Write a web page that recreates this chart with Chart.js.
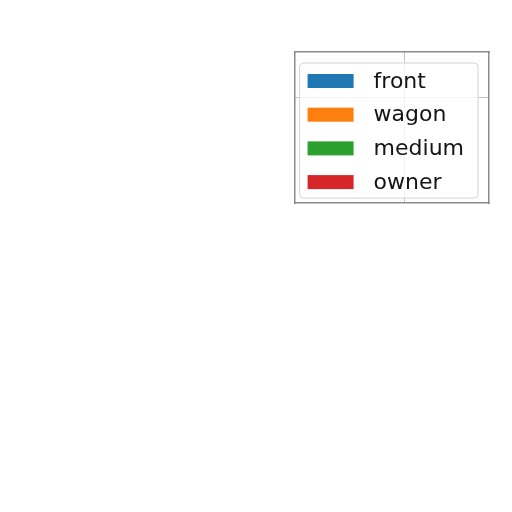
<!DOCTYPE html>
<html>
<head>
<meta charset="utf-8">
<script src="https://cdn.jsdelivr.net/npm/chart.js@4/dist/chart.umd.min.js"></script>
<style>
  html, body { margin: 0; padding: 0; background: #fff; }
  #wrap { width: 512px; height: 512px; }
</style>
</head>
<body>
<div id="wrap"><canvas id="grafico"></canvas></div>
<script>
// nothing of the series is visible in the picture, only the legend
let categorias = [];
let series = ["front", "wagon", "medium", "owner"];
let valoresFront = [];
let valoresWagon = [];
let valoresMedium = [];
let valoresOwner = [];
let cores = ["#1f77b4", "#ff7f0e", "#2ca02c", "#d62728"];
let ticksX = [1];
let ticksY = [1];

let valores = [valoresFront, valoresWagon, valoresMedium, valoresOwner];

// legend drawn inside the plot, upper right, like matplotlib
const legendaDentro = {
  id: "legendaDentro",
  afterDraw(chart) {
    let ctx = chart.ctx;
    let area = chart.chartArea;
    ctx.save();
    ctx.font = "22px 'DejaVu Sans'";
    let larguraTexto = Math.max(
      ...chart.data.datasets.map((d) => ctx.measureText(d.label).width)
    );
    let passo = 33.7;
    let largura = 8 + 46 + 20 + larguraTexto + 14;
    let altura = 18 + passo * (chart.data.datasets.length - 1) + 16;
    let direita = area.right - 11;
    let topo = area.top + 11;
    let esquerda = direita - largura;

    ctx.beginPath();
    ctx.roundRect(esquerda, topo, largura, altura, 4);
    ctx.fillStyle = "rgba(255,255,255,0.8)";
    ctx.fill();
    ctx.lineWidth = 1;
    ctx.strokeStyle = "#d4d4d4";
    ctx.stroke();

    ctx.textBaseline = "middle";
    chart.data.datasets.forEach((d, i) => {
      let y = topo + 18 + passo * i;
      ctx.fillStyle = d.backgroundColor;
      ctx.fillRect(esquerda + 8, y - 7, 46, 14);
      ctx.fillStyle = "#141414";
      ctx.fillText(d.label, esquerda + 74, y + 1);
    });
    ctx.restore();
  },
};

let ctx = document.getElementById("grafico").getContext("2d");

let eixoX = {
  type: "linear",
  min: 0,
  max: 1.764,
  offset: false,
  afterBuildTicks: (s) => { s.ticks = ticksX.map((v) => ({ value: v })); },
  ticks: { display: false },
  grid: { color: "#c4c4c4", lineWidth: 1, drawTicks: false, offset: false },
  border: { display: true, color: "#8a8a8a", width: 1.5 },
};
let eixoY = {
  type: "linear",
  min: 0,
  max: 1.438,
  afterBuildTicks: (s) => { s.ticks = ticksY.map((v) => ({ value: v })); },
  ticks: { display: false },
  grid: { color: "#c4c4c4", lineWidth: 1, drawTicks: false },
  border: { display: true, color: "#8a8a8a", width: 1.5 },
};

window.grafico = new Chart(ctx, {
  type: "bar",
  data: {
    labels: categorias,
    datasets: series.map((nome, i) => ({
      label: nome,
      data: valores[i],
      backgroundColor: cores[i],
      borderWidth: 0,
    })),
  },
  plugins: [legendaDentro],
  options: {
    responsive: true,
    maintainAspectRatio: false,
    animation: false,
    layout: { padding: { left: 295, top: 52, right: 23, bottom: 309 } },
    plugins: { legend: { display: false }, tooltip: { enabled: false } },
    scales: {
      x: eixoX,
      y: eixoY,
      xTopo: {
        type: "linear",
        position: "top",
        ticks: { display: false },
        grid: { display: false, drawTicks: false },
        border: { display: true, color: "#8a8a8a", width: 1.5 },
      },
      yDireita: {
        type: "linear",
        position: "right",
        ticks: { display: false },
        grid: { display: false, drawTicks: false },
        border: { display: true, color: "#8a8a8a", width: 1.5 },
      },
    },
  },
});
</script>
</body>
</html>
